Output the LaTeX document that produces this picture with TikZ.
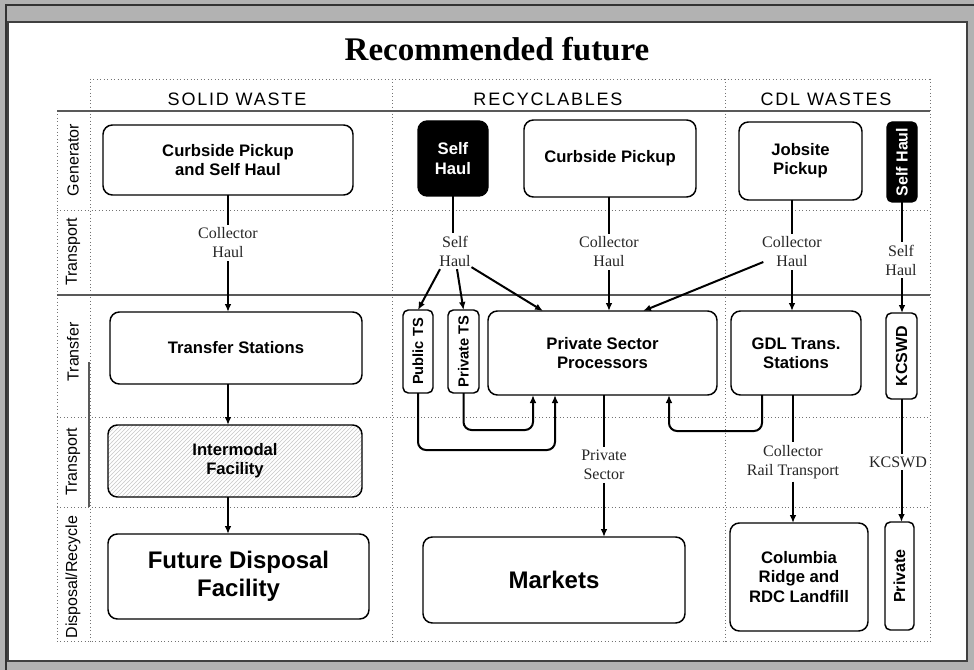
\documentclass[tikz,border=0pt]{standalone}
\usepackage{fontspec}
\setmainfont{Liberation Serif}
\newfontfamily\sansf{Liberation Sans}
\newfontfamily\hdrf[LetterSpace=10]{Liberation Sans}
\usetikzlibrary{arrows.meta,patterns,calc}
% #1 style, #2 name, #3 x1, #4 y1, #5 x2, #6 y2, #7 text
\newcommand\mkbox[7]{\node[#1, minimum width={0.75pt*(#5-#3)}, minimum height={0.75pt*(#6-#4)}] (#2) at ({(#3+#5)/2},{(#4+#6)/2}) {#7};}
\begin{document}
\begin{tikzpicture}[x=0.75pt,y=-0.75pt,
  grid/.style={black!55, dotted, line width=0.6pt},
  rule/.style={black!65, line width=0.8pt},
  box/.style={draw, line width=1.1pt, rounded corners=7pt, inner sep=0pt, outer sep=0pt, align=center,
    font=\sansf\bfseries\fontsize{12.5}{14.5}\selectfont},
  bigbox/.style={box, font=\sansf\bfseries\fontsize{18}{21}\selectfont},
  vbox/.style={box, rounded corners=4pt},
  vtext/.style={rotate=90, inner sep=0pt, font=\sansf\bfseries\fontsize{11}{13}\selectfont},
  darkbox/.style={box, fill=black, text=white},
  lbl/.style={font=\fontsize{12}{14.25}\selectfont, align=center, inner sep=2pt, text=black!85},
  rowlbl/.style={rotate=90, font=\sansf\fontsize{12}{14}\selectfont},
  hdr/.style={font=\hdrf\fontsize{13.5}{16}\selectfont, anchor=base},
  conn/.style={line width=1.5pt},
  arr/.style={conn, -{Latex[length=6pt,width=5pt]}},
]
\useasboundingbox (0,0) rectangle (974,670);
% frame
\fill[black!30] (0,0) rectangle (974,670);
\draw[black!80, line width=0.8pt] (6,670) -- (6,5) -- (974,5);
\filldraw[fill=white, draw=black!75, line width=0.8pt] (8,22) rectangle (967,661);

% title
\node[font=\bfseries\fontsize{24.75}{28}\selectfont, anchor=base] (title) at (497,61) {Recommended future};

% grid
\draw[grid] (90,79) -- (930,79);
\draw[grid] (930,79) -- (930,641);
\draw[grid] (57,641) -- (930,641);
\draw[grid] (57,111) -- (57,641);
\draw[grid] (90,79) -- (90,641);
\draw[grid] (392,79) -- (392,641);
\draw[grid] (725,79) -- (725,641);
\draw[grid] (57,210) -- (930,210);
\draw[grid] (57,417) -- (930,417);
\draw[grid] (57,507) -- (930,507);
\draw[rule] (57,111) -- (930,111);
\draw[rule] (57,295) -- (930,295);
\draw[rule] (89,362) -- (89,507);

% headers
\node[hdr] (h1) at (237,106) {SOLID WASTE};
\node[hdr] (h2) at (548,106) {RECYCLABLES};
\node[hdr] (h3) at (826,106) {CDL WASTES};

% row labels
\node[rowlbl] (r1) at (73,160) {Generator};
\node[rowlbl] (r2) at (73,252) {Transport};
\node[rowlbl] (r3) at (73,352) {Transfer};
\node[rowlbl] (r4) at (73,462) {Transport};
\node[rowlbl] (r5) at (73,577) {Disposal/Recycle};

% generator row
\mkbox{box}{g1}{103}{125}{353}{195}{Curbside Pickup\\and Self Haul}
\mkbox{darkbox}{g2}{418}{121}{488}{196}{Self\\Haul}
\mkbox{box}{g3}{524}{120}{696}{197}{Curbside Pickup}
\mkbox{box}{g4}{739}{122}{862}{200}{Jobsite\\Pickup}
\mkbox{vbox, fill=black}{g5}{887}{122}{917}{202}{}
\node[vtext, text=white, font=\sansf\bfseries\fontsize{12}{14}\selectfont] (g5x) at (g5.center) {Self Haul};

% transfer row
\mkbox{box}{t1}{110}{312}{362}{384}{Transfer Stations}
\mkbox{vbox}{t2}{403}{310}{433}{393}{}
\node[vtext] (t2x) at (t2.center) {Public TS};
\mkbox{vbox}{t3}{448}{310}{479}{393}{}
\node[vtext] (t3x) at (t3.center) {Private TS};
\mkbox{box}{t4}{488}{311}{717}{395}{Private Sector\\Processors}
\mkbox{box}{t5}{731}{311}{861}{395}{GDL Trans.\\Stations}
\mkbox{vbox}{t6}{886}{313}{917}{399}{}
\node[vtext, font=\sansf\bfseries\fontsize{12}{14}\selectfont] (t6x) at (t6.center) {KCSWD};

% transport row
\mkbox{box, preaction={fill=white}, pattern=north east lines, pattern color=black!22}{m1}{108}{425}{362}{497}{Intermodal\\Facility}

% disposal row
\mkbox{bigbox}{d1}{108}{534}{369}{619}{Future Disposal\\Facility}
\mkbox{bigbox}{d2}{423}{537}{685}{623}{Markets}
\mkbox{box}{d3}{730}{523}{868}{631}{Columbia\\Ridge and\\RDC Landfill}
\mkbox{vbox}{d4}{885}{522}{914}{630}{}
\node[vtext, font=\sansf\bfseries\fontsize{12}{14}\selectfont] (d4x) at (d4.center) {Private};

% connector labels
\node[lbl] (l1) at (228,243) {Collector\\Haul};
\node[lbl] (l2) at (455,251) {Self\\Haul};
\node[lbl] (l3) at (609,252) {Collector\\Haul};
\node[lbl] (l4) at (792,252) {Collector\\Haul};
\node[lbl] (l5) at (901,260) {Self\\Haul};
\node[lbl] (l6) at (604,465) {Private\\Sector};
\node[lbl] (l7) at (793,462) {Collector\\Rail Transport};
\node[lbl] (l8) at (898,462) {KCSWD};

% solid waste column
\draw[conn] (g1.south -| l1.north) -- (l1.north);
\draw[arr] (l1.south) -- (l1.south |- t1.north);
\draw[arr] (t1.south -| l1.south) -- (m1.north -| l1.south);
\draw[arr] (m1.south -| l1.south) -- (d1.north -| l1.south);

% recyclables column
\draw[conn] (g2.south) -- (g2.south |- l2.north);
\draw[arr] ($(l2.south)+(-15,0)$) -- (t2.north);
\draw[arr] ($(l2.south)+(2,0)$) -- (t3.north);
\draw[arr] ($(l2.south east)+(-2,-2)$) -- ($(t4.north west)+(55,0)$);
\draw[conn] (g3.south -| l3.north) -- (l3.north);
\draw[arr] (l3.south) -- (l3.south |- t4.north);
\draw[arr, rounded corners=6pt] (t2.south) -- ++(0,57) -| ($(t4.south west)+(67,0)$);
\draw[arr, rounded corners=6pt] (t3.south) -- ++(0,37) -| ($(t4.south west)+(45,0)$);
\draw[conn] (t4.south -| l6.north) -- (l6.north);
\draw[arr] (l6.south) -- (l6.south |- d2.north);

% CDL column
\draw[conn] (g4.south -| l4.north) -- (l4.north);
\draw[arr] (l4.south) -- (l4.south |- t5.north);
\draw[arr] ($(l4.west)+(4,10)$) -- ($(t4.north west)+(155,0)$);
\draw[arr, rounded corners=6pt] ($(t5.south west)+(31,0)$) -- ++(0,36) -| ($(t4.south west)+(181,0)$);
\draw[conn] (t5.south -| l7.north) -- (l7.north);
\draw[arr] (l7.south) -- (l7.south |- d3.north);
\draw[conn] (g5.south) -- (g5.south |- l5.north);
\draw[arr] (l5.south -| g5.south) -- (t6.north -| g5.south);
\draw[conn] (t6.south) -- (t6.south |- l8.north);
\draw[arr] (l8.south -| t6.south) -- (d4.north -| t6.south);
\end{tikzpicture}
\end{document}
